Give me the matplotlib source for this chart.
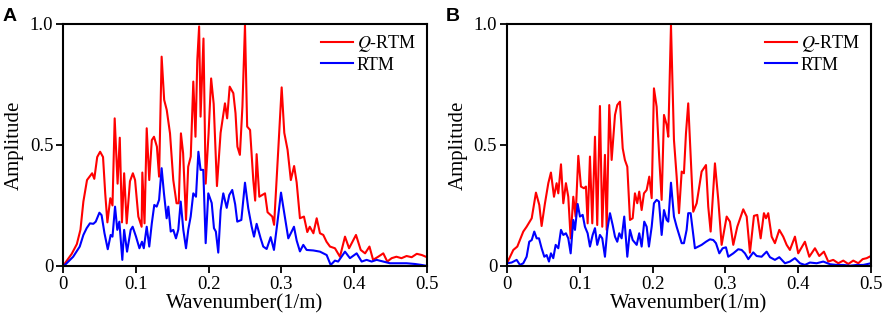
import matplotlib
matplotlib.use("Agg")
import matplotlib.pyplot as plt

plt.rcParams["font.family"] = ["Liberation Serif", "DejaVu Serif"]
plt.rcParams["mathtext.fontset"] = "stix"

# panel A: Q-RTM (red) spectrum, vertices
ka_q = [0.0, 0.003, 0.012, 0.019, 0.024, 0.028, 0.033, 0.040, 0.043, 0.047,
        0.051, 0.055, 0.058, 0.061, 0.065, 0.068, 0.071, 0.075, 0.078, 0.081,
        0.084, 0.0875, 0.092, 0.096, 0.099, 0.1035, 0.108, 0.109, 0.112, 0.115,
        0.1185, 0.122, 0.125, 0.129, 0.132, 0.1355, 0.139, 0.1425, 0.147, 0.1515,
        0.156, 0.159, 0.162, 0.165, 0.169, 0.172, 0.1755, 0.179, 0.182, 0.1845,
        0.187, 0.189, 0.193, 0.196, 0.2, 0.2035, 0.207, 0.2115, 0.2165, 0.2225,
        0.2255, 0.229, 0.234, 0.237, 0.2396, 0.243, 0.2465, 0.25, 0.253, 0.257,
        0.2614, 0.264, 0.266, 0.2697, 0.2775, 0.281, 0.2875, 0.290, 0.2957, 0.3004,
        0.304, 0.3085, 0.313, 0.3175, 0.321, 0.3255, 0.331, 0.3356, 0.339, 0.344,
        0.3485, 0.353, 0.3576, 0.362, 0.3668, 0.3736, 0.3805, 0.3874, 0.393, 0.4025,
        0.409, 0.415, 0.421, 0.426, 0.433, 0.44, 0.4455, 0.4515, 0.458, 0.465,
        0.472, 0.479, 0.486, 0.493, 0.5]
amp_a_q = [0.0, 0.012, 0.05, 0.09, 0.15, 0.266, 0.355, 0.383, 0.36, 0.45,
           0.472, 0.45, 0.30, 0.18, 0.28, 0.25, 0.61, 0.34, 0.53, 0.18,
           0.383, 0.176, 0.35, 0.383, 0.355, 0.204, 0.162, 0.386, 0.176, 0.569,
           0.355, 0.52, 0.534, 0.493, 0.369, 0.865, 0.686, 0.645, 0.548, 0.355,
           0.259, 0.259, 0.548, 0.466, 0.19, 0.41, 0.452, 0.762, 0.534, 0.851,
           0.99, 0.617, 0.94, 0.34, 0.548, 0.775, 0.67, 0.33, 0.55, 0.672,
           0.61, 0.741, 0.714, 0.631, 0.493, 0.459, 0.66, 0.996, 0.576, 0.562,
           0.355, 0.27, 0.462, 0.286, 0.30, 0.222, 0.204, 0.17, 0.479, 0.738,
           0.55, 0.48, 0.355, 0.413, 0.345, 0.197, 0.204, 0.14, 0.162, 0.135,
           0.197, 0.135, 0.128, 0.10, 0.08, 0.073, 0.038, 0.121, 0.073, 0.128,
           0.066, 0.052, 0.08, 0.025, 0.038, 0.052, 0.018, 0.032, 0.038, 0.032,
           0.041, 0.036, 0.05, 0.045, 0.036]

# panel A: RTM (blue)
ka_r = [0.0, 0.003, 0.014, 0.023, 0.028, 0.0325, 0.037, 0.0417, 0.045, 0.05,
        0.053, 0.057, 0.0615, 0.0655, 0.068, 0.0715, 0.0746, 0.0774, 0.0815, 0.084,
        0.088, 0.093, 0.0957, 0.1003, 0.105, 0.1085, 0.111, 0.115, 0.1185, 0.122,
        0.1254, 0.1287, 0.132, 0.1355, 0.1387, 0.1424, 0.1447, 0.148, 0.1515, 0.1552,
        0.1584, 0.1617, 0.1653, 0.169, 0.1721, 0.1754, 0.179, 0.1827, 0.186, 0.189,
        0.1927, 0.196, 0.1996, 0.2043, 0.2074, 0.210, 0.2133, 0.2166, 0.2202, 0.2249,
        0.2284, 0.2325, 0.2365, 0.2394, 0.245, 0.25, 0.2545, 0.2592, 0.2624, 0.266,
        0.2715, 0.2751, 0.2798, 0.2853, 0.2898, 0.2944, 0.2995, 0.3036, 0.3095, 0.3141,
        0.3173, 0.321, 0.3255, 0.3301, 0.3347, 0.3438, 0.353, 0.3622, 0.3677, 0.3736,
        0.378, 0.3874, 0.3942, 0.4034, 0.4103, 0.4171, 0.424, 0.4309, 0.44, 0.4492,
        0.4584, 0.472, 0.4835, 0.4927, 0.5]
amp_a_r = [0.0, 0.005, 0.038, 0.08, 0.128, 0.156, 0.176, 0.174, 0.183, 0.22,
           0.21, 0.135, 0.069, 0.128, 0.121, 0.245, 0.149, 0.183, 0.025, 0.149,
           0.059, 0.149, 0.162, 0.121, 0.073, 0.10, 0.073, 0.162, 0.08, 0.176,
           0.252, 0.245, 0.273, 0.404, 0.30, 0.197, 0.245, 0.142, 0.149, 0.114,
           0.15, 0.266, 0.149, 0.073, 0.15, 0.204, 0.30, 0.286, 0.472, 0.397,
           0.397, 0.094, 0.30, 0.26, 0.156, 0.142, 0.055, 0.23, 0.30, 0.24,
           0.293, 0.314, 0.255, 0.183, 0.19, 0.344, 0.238, 0.162, 0.121, 0.174,
           0.114, 0.08, 0.07, 0.119, 0.066, 0.176, 0.303, 0.225, 0.114, 0.142,
           0.162, 0.105, 0.06, 0.087, 0.066, 0.064, 0.059, 0.045, 0.004, 0.022,
           0.018, 0.059, 0.032, 0.052, 0.018, 0.025, 0.018, 0.025, 0.018, 0.011,
           0.011, 0.011, 0.008, 0.004, 0.0]

# panel B: Q-RTM (red)
kb_q = [0.0, 0.0087, 0.0142, 0.0224, 0.027, 0.034, 0.0398, 0.0444, 0.0476, 0.0522,
        0.0568, 0.0604, 0.0646, 0.0682, 0.0705, 0.0742, 0.0774, 0.081, 0.0842, 0.0875,
        0.0911, 0.0943, 0.098, 0.1016, 0.1058, 0.1085, 0.1108, 0.114, 0.1172, 0.1209,
        0.124, 0.1277, 0.1309, 0.1346, 0.137, 0.1405, 0.1438, 0.1484, 0.1515, 0.1552,
        0.159, 0.162, 0.1653, 0.169, 0.1727, 0.1758, 0.179, 0.1817, 0.185, 0.1882,
        0.1919, 0.1955, 0.1988, 0.2019, 0.2056, 0.2092, 0.2125, 0.2157, 0.2194, 0.2216,
        0.2253, 0.2294, 0.2331, 0.2363, 0.24, 0.2431, 0.2459, 0.249, 0.2559, 0.2606,
        0.2674, 0.2734, 0.2765, 0.2798, 0.2857, 0.2903, 0.2949, 0.3018, 0.3063, 0.3109,
        0.3164, 0.3246, 0.3293, 0.3338, 0.3393, 0.3439, 0.3485, 0.353, 0.3558, 0.3589,
        0.3636, 0.3681, 0.3741, 0.3795, 0.3842, 0.3887, 0.3956, 0.4001, 0.4093, 0.4153,
        0.4231, 0.429, 0.4354, 0.4414, 0.4482, 0.4551, 0.462, 0.4688, 0.4757, 0.4826,
        0.4886, 0.4941, 0.5]
amp_b_q = [0.011, 0.066, 0.08, 0.142, 0.162, 0.197, 0.303, 0.252, 0.165, 0.259,
           0.342, 0.386, 0.286, 0.342, 0.30, 0.42, 0.259, 0.342, 0.286, 0.114,
           0.286, 0.204, 0.455, 0.328, 0.321, 0.328, 0.176, 0.452, 0.176, 0.534,
           0.169, 0.661, 0.162, 0.459, 0.149, 0.665, 0.438, 0.624, 0.665, 0.679,
           0.486, 0.438, 0.41, 0.19, 0.197, 0.30, 0.259, 0.307, 0.231, 0.30,
           0.314, 0.369, 0.28, 0.734, 0.658, 0.445, 0.273, 0.624, 0.583, 0.534,
           0.996, 0.521, 0.369, 0.218, 0.39, 0.383, 0.548, 0.672, 0.224, 0.259,
           0.39, 0.417, 0.245, 0.142, 0.424, 0.273, 0.087, 0.204, 0.183, 0.087,
           0.162, 0.234, 0.204, 0.055, 0.207, 0.211, 0.114, 0.218, 0.197, 0.218,
           0.121, 0.094, 0.149, 0.121, 0.087, 0.066, 0.121, 0.052, 0.10, 0.038,
           0.073, 0.041, 0.059, 0.018, 0.025, 0.011, 0.022, 0.008, 0.022, 0.011,
           0.028, 0.032, 0.041]

# panel B: RTM (blue)
kb_r = [0.0, 0.0064, 0.0133, 0.0179, 0.0224, 0.027, 0.0306, 0.034, 0.0375, 0.0408,
        0.044, 0.0476, 0.0513, 0.0545, 0.0577, 0.0604, 0.0636, 0.0669, 0.0705, 0.0742,
        0.0774, 0.081, 0.0842, 0.0875, 0.0911, 0.0934, 0.0971, 0.1003, 0.104, 0.1071,
        0.1108, 0.114, 0.1177, 0.1209, 0.124, 0.1277, 0.1309, 0.1346, 0.1378, 0.1415,
        0.1452, 0.1484, 0.1515, 0.1543, 0.1575, 0.1611, 0.1653, 0.169, 0.1727, 0.1782,
        0.1817, 0.185, 0.1886, 0.1919, 0.195, 0.1988, 0.2019, 0.2056, 0.2088, 0.2125,
        0.2157, 0.2194, 0.2216, 0.2253, 0.2294, 0.2331, 0.24, 0.2431, 0.2468, 0.249,
        0.2523, 0.2582, 0.2628, 0.2674, 0.2734, 0.2788, 0.2834, 0.2871, 0.2917, 0.2963,
        0.3008, 0.304, 0.3109, 0.3177, 0.3224, 0.3269, 0.3315, 0.3383, 0.343, 0.3498,
        0.3567, 0.3613, 0.3681, 0.3741, 0.3819, 0.3887, 0.3956, 0.4025, 0.4093, 0.4162,
        0.4254, 0.4345, 0.4437, 0.4529, 0.462, 0.4712, 0.4804, 0.4894, 0.5]
amp_b_r = [0.011, 0.014, 0.025, 0.004, 0.011, 0.038, 0.10, 0.107, 0.142, 0.114,
           0.114, 0.073, 0.038, 0.045, 0.018, 0.052, 0.032, 0.087, 0.073, 0.149,
           0.128, 0.135, 0.114, 0.052, 0.19, 0.149, 0.256, 0.204, 0.211, 0.162,
           0.135, 0.08, 0.128, 0.156, 0.087, 0.128, 0.114, 0.038, 0.149, 0.218,
           0.169, 0.121, 0.10, 0.135, 0.114, 0.204, 0.038, 0.149, 0.107, 0.087,
           0.135, 0.08, 0.183, 0.162, 0.08, 0.162, 0.259, 0.273, 0.266, 0.128,
           0.231, 0.19, 0.183, 0.344, 0.204, 0.162, 0.094, 0.094, 0.149, 0.218,
           0.218, 0.073, 0.08, 0.087, 0.10, 0.11, 0.107, 0.094, 0.052, 0.073,
           0.077, 0.038, 0.052, 0.069, 0.066, 0.052, 0.028, 0.056, 0.041, 0.038,
           0.059, 0.036, 0.025, 0.036, 0.011, 0.018, 0.032, 0.011, 0.004, 0.014,
           0.011, 0.018, 0.007, 0.004, 0.004, 0.001, 0.004, 0.004, 0.011]

x_ticks = [0, 0.1, 0.2, 0.3, 0.4, 0.5]
x_labels = ["0", "0.1", "0.2", "0.3", "0.4", "0.5"]
y_ticks = [0, 0.5, 1.0]
y_labels = ["0", "0.5", "1.0"]

fig = plt.figure(figsize=(8.86, 3.2), dpi=100)
ax_a = fig.add_axes([0.0711, 0.169, 0.4108, 0.756])
ax_b = fig.add_axes([0.5722, 0.169, 0.4108, 0.756])


def draw_panel(ax, kq, aq, kr, ar, tag, tag_x):
    ax.plot(kq, aq, color="#ff0000", lw=1.5, label="$Q$-RTM")
    ax.plot(kr, ar, color="#0000ff", lw=1.5, label="RTM")
    ax.set_xlim(0, 0.5)
    ax.set_ylim(0, 1.0)
    ax.set_xticks(x_ticks)
    ax.set_xticklabels(x_labels)
    ax.set_yticks(y_ticks)
    ax.set_yticklabels(y_labels)
    ax.tick_params(direction="out", length=5, width=1.3, labelsize=13.5, pad=2)
    for spine in ax.spines.values():
        spine.set_linewidth(1.5)
    ax.set_xlabel("Wavenumber(1/m)", fontsize=15, labelpad=1)
    ax.set_ylabel("Amplitude", fontsize=15, labelpad=4)
    ax.legend(loc="upper right", frameon=False, fontsize=13, handlelength=1.75,
              handletextpad=0.2, labelspacing=0.15, borderaxespad=0.1,
              bbox_to_anchor=(0.995, 1.0))
    fig.text(tag_x, 0.975, tag, fontsize=14, fontweight="bold",
             family="Liberation Sans", va="top", ha="left")


draw_panel(ax_a, ka_q, amp_a_q, ka_r, amp_a_r, "A", 0.003)
draw_panel(ax_b, kb_q, amp_b_q, kb_r, amp_b_r, "B", 0.503)

fig.savefig("out.png", dpi=100)
